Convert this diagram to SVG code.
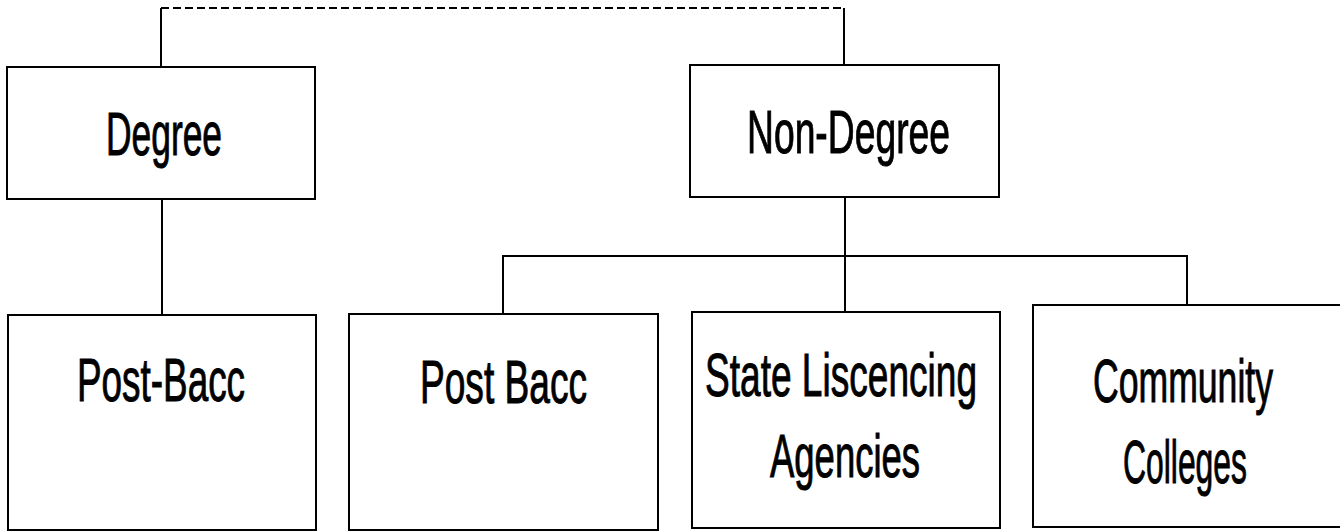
<svg xmlns="http://www.w3.org/2000/svg" width="1340" height="532" viewBox="0 0 1340 532">
<style>
.box{fill:#fff;stroke:#000;stroke-width:2}
.ln{fill:none;stroke:#000;stroke-width:2}
.dash{fill:none;stroke:#000;stroke-width:2;stroke-dasharray:8 4}
.t{font-family:"Liberation Sans",Arial,sans-serif;font-size:62px;fill:#000;stroke:#000;stroke-width:1}
</style>
<rect width="1340" height="532" fill="#fff"/>
<g id="connectors">
<path class="dash" d="M161,8 H844"/>
<path class="ln" d="M161,8 V67"/>
<path class="ln" d="M844,8 V65"/>
<path class="ln" d="M162,199 V315"/>
<path class="ln" d="M845,197 V312"/>
<path class="ln" d="M503,314 V256 H1187 V305"/>
</g>
<g id="degree">
<rect class="box" x="7" y="67" width="308" height="132"/>
<text class="t" x="106" y="155" textLength="116" lengthAdjust="spacingAndGlyphs">Degree</text>
</g>
<g id="non-degree">
<rect class="box" x="690" y="65" width="309" height="132"/>
<text class="t" x="747" y="153" textLength="203" lengthAdjust="spacingAndGlyphs">Non-Degree</text>
</g>
<g id="post-bacc-degree">
<rect class="box" x="8" y="315" width="308" height="215"/>
<text class="t" x="77" y="401" textLength="168" lengthAdjust="spacingAndGlyphs">Post-Bacc</text>
</g>
<g id="post-bacc-nondegree">
<rect class="box" x="349" y="314" width="309" height="216"/>
<text class="t" x="420" y="403" textLength="167" lengthAdjust="spacingAndGlyphs">Post Bacc</text>
</g>
<g id="state-agencies">
<rect class="box" x="692" y="312" width="308" height="216"/>
<text class="t" x="705" y="396" textLength="272" lengthAdjust="spacingAndGlyphs">State Liscencing</text>
<text class="t" x="770" y="477" textLength="150" lengthAdjust="spacingAndGlyphs">Agencies</text>
</g>
<g id="community-colleges">
<path class="box" d="M1340,305 H1033 V527 H1340"/>
<text class="t" x="1093" y="402" textLength="180" lengthAdjust="spacingAndGlyphs">Community</text>
<text class="t" x="1123" y="483" textLength="124" lengthAdjust="spacingAndGlyphs">Colleges</text>
</g>
</svg>
